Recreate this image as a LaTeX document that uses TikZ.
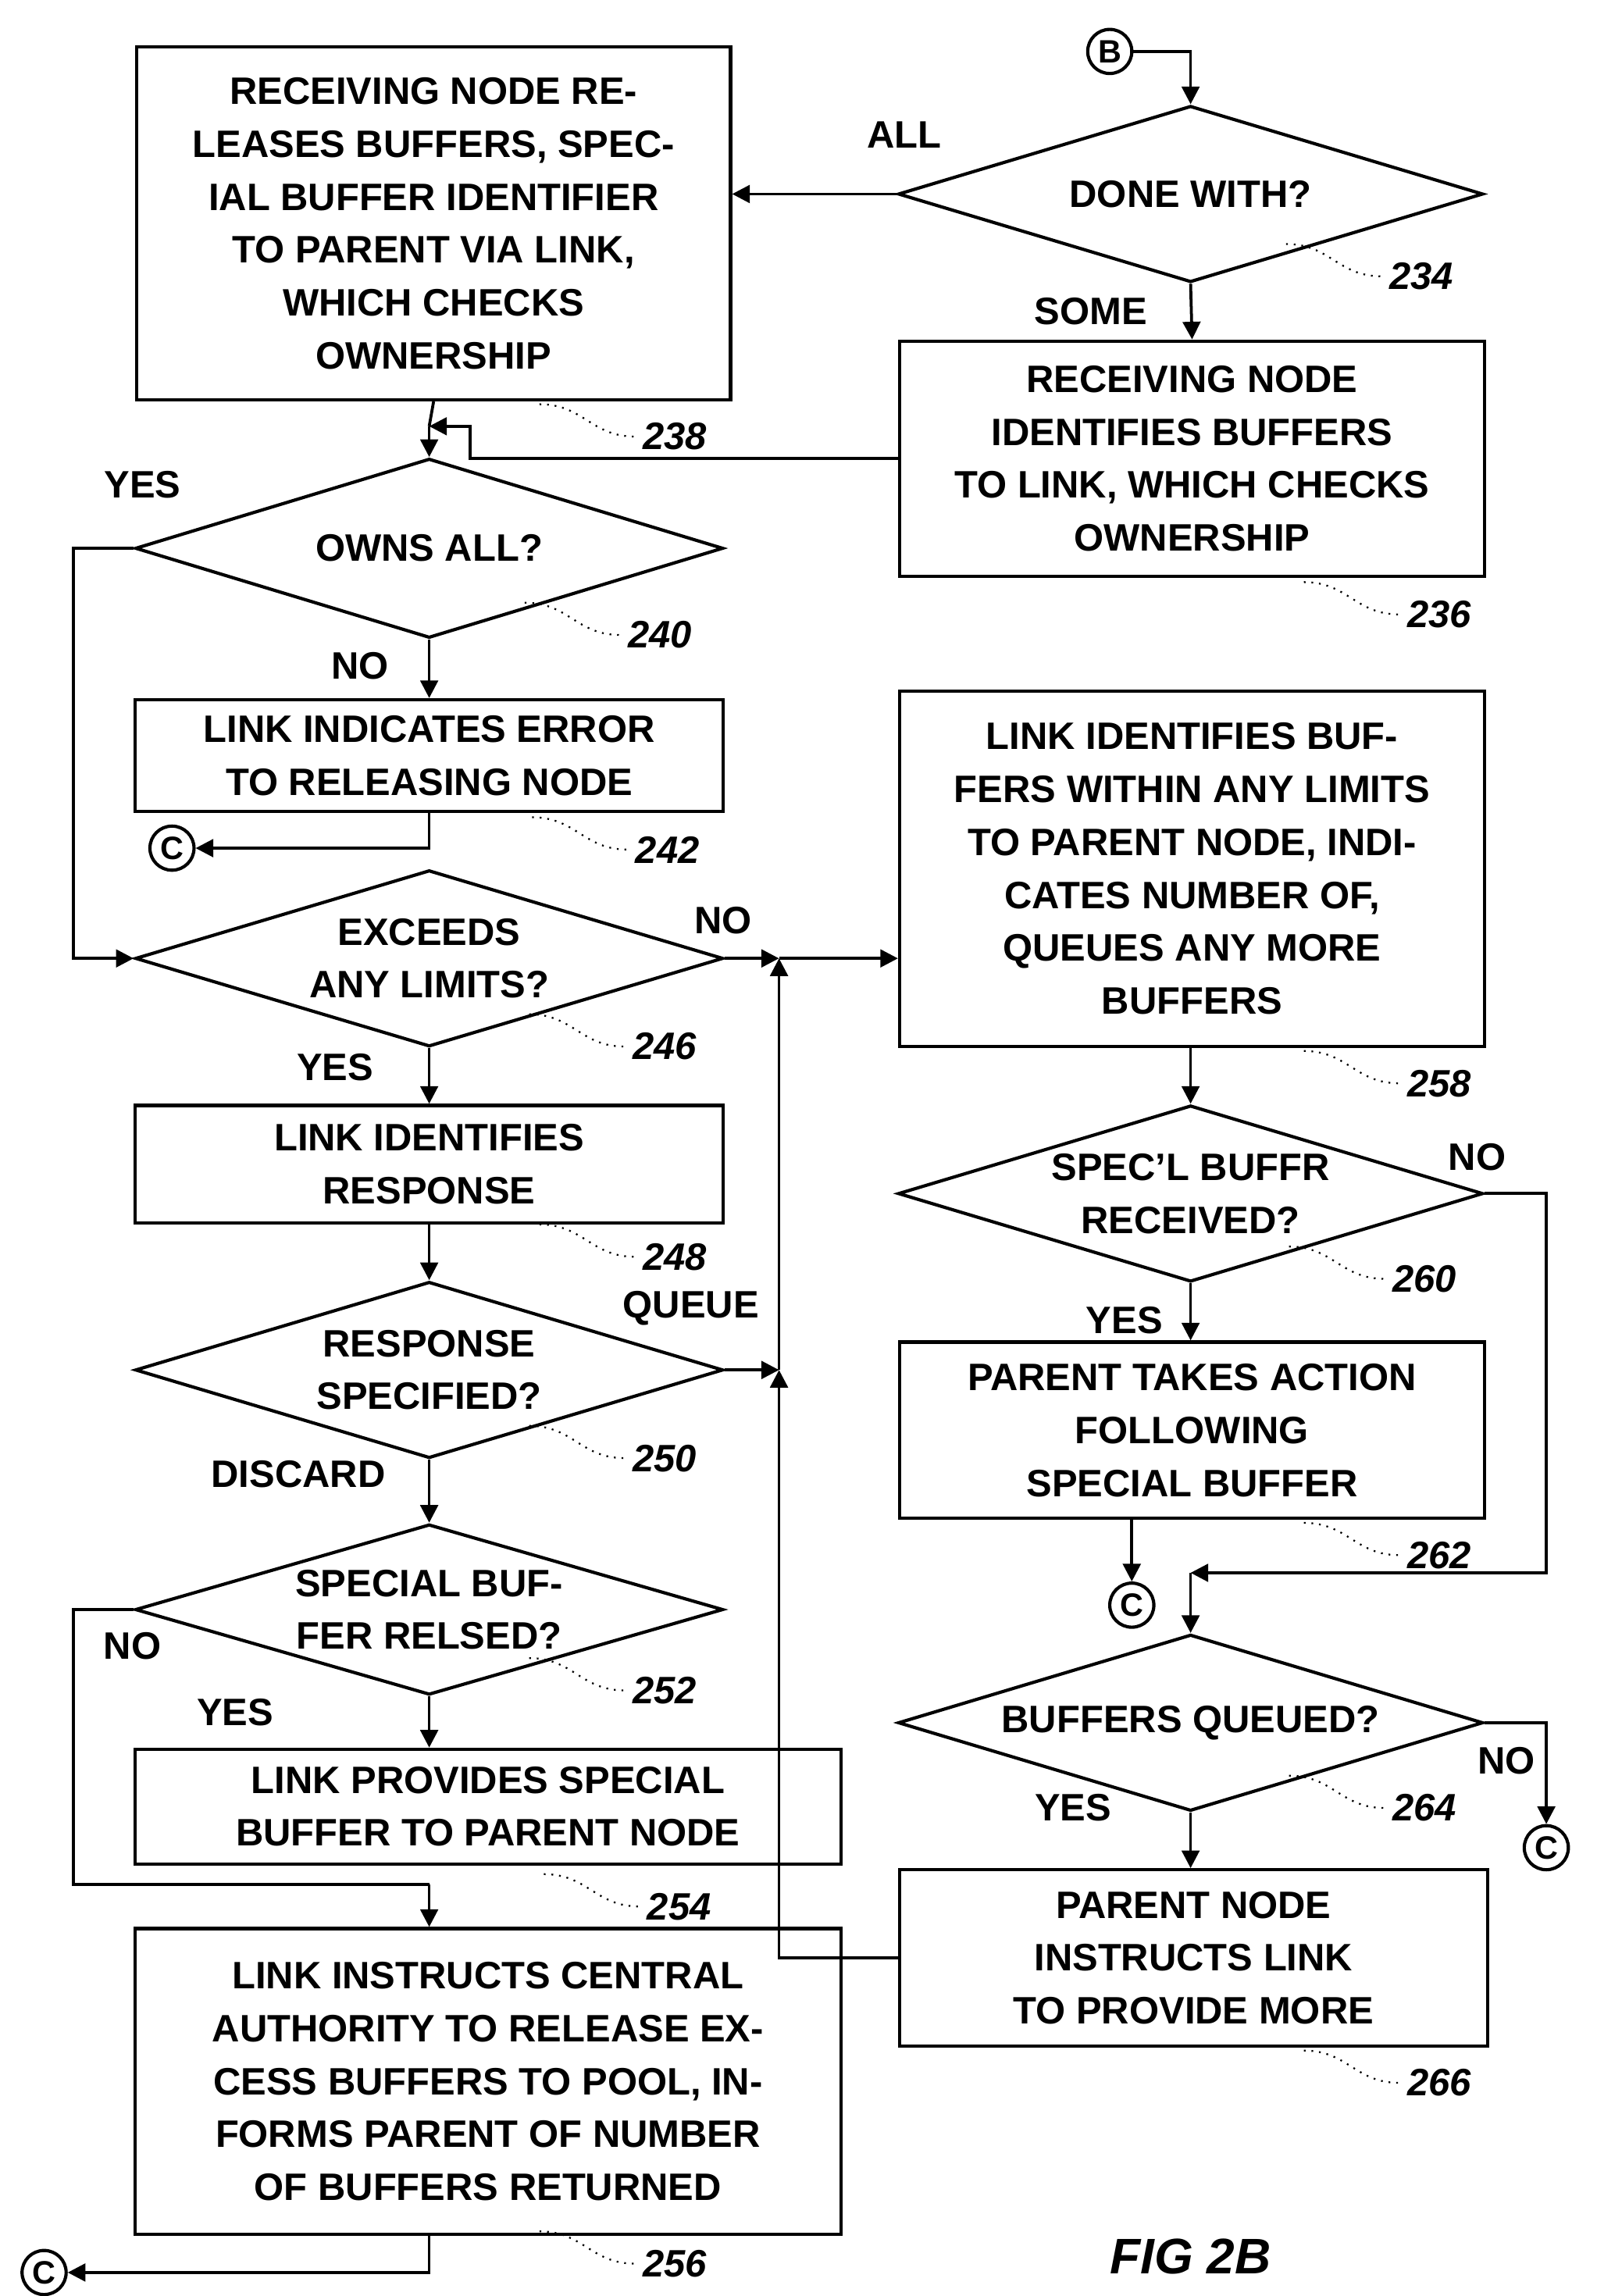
\documentclass[tikz,border=0pt]{standalone}
\usepackage{fontspec}
\setmainfont{Liberation Sans}
\usetikzlibrary{shapes.geometric,arrows.meta}

\tikzset{
  box/.style={draw,line width=1.1pt,align=center,inner sep=1pt},
  dec/.style={draw,diamond,line width=1.1pt,aspect=3.3,inner sep=0pt},
  txt/.style={align=center,inner sep=0pt},
  conn/.style={circle,draw,line width=1.1pt,minimum size=15pt,inner sep=0pt,font=\fontsize{11}{12}\selectfont\bfseries},
  flow/.style={line width=1pt,-{Triangle[length=6pt,width=6pt]}},
  line/.style={line width=1pt},
  num/.style={font=\fontsize{13}{14}\selectfont\bfseries\itshape,inner sep=0pt},
}
\newcommand{\refnum}[3]{%
  \node[num,anchor=west] at (#1,#2) {#3};
  \draw[line width=0.6pt,dotted] (#1-70,#2-22) .. controls (#1-40,#2-22) and (#1-35,#2) .. (#1-5,#2);}

\begin{document}
\begin{tikzpicture}[x=0.5pt,y=-0.5pt,font=\fontsize{13}{18}\selectfont\bfseries]
\useasboundingbox (0,0) rectangle (1086,1562);

% right column top
\node[conn] (b) at (755,35) {B};
\node[dec,minimum width=199pt,minimum height=60pt] (d234) at (810,132) {};
\node[txt] at (d234) {DONE WITH?};
\node[box,minimum width=202pt,minimum height=120pt] (r238) at (295,152)
  {RECEIVING NODE RE-\\LEASES BUFFERS, SPEC-\\IAL BUFFER IDENTIFIER\\TO PARENT VIA LINK,\\WHICH CHECKS\\OWNERSHIP};
\node[box,minimum width=199pt,minimum height=80pt] (r236) at (811,312)
  {RECEIVING NODE\\IDENTIFIES BUFFERS\\TO LINK, WHICH CHECKS\\OWNERSHIP};

% left column
\node[dec,minimum width=200pt,minimum height=61pt] (d240) at (292,373) {};
\node[txt] at (d240) {OWNS ALL?};
\node[box,minimum width=200pt,minimum height=38pt] (r242) at (292,514)
  {LINK INDICATES ERROR\\TO RELEASING NODE};
\node[conn] (c1) at (117,577) {C};
\node[dec,minimum width=200pt,minimum height=60pt] (d246) at (292,652) {};
\node[txt] at (d246) {EXCEEDS\\ANY LIMITS?};
\node[box,minimum width=200pt,minimum height=40pt] (r248) at (292,792)
  {LINK IDENTIFIES\\RESPONSE};
\node[dec,minimum width=200pt,minimum height=60pt] (d250) at (292,932) {};
\node[txt] at (d250) {RESPONSE\\SPECIFIED?};
\node[dec,minimum width=200pt,minimum height=58pt] (d252) at (292,1095) {};
\node[txt] at (d252) {SPECIAL BUF-\\FER RELSED?};
\node[box,minimum width=240pt,minimum height=39pt] (r254) at (332,1229)
  {LINK PROVIDES SPECIAL\\BUFFER TO PARENT NODE};
\node[box,minimum width=240pt,minimum height=104pt] (r256) at (332,1416)
  {LINK INSTRUCTS CENTRAL\\AUTHORITY TO RELEASE EX-\\CESS BUFFERS TO POOL, IN-\\FORMS PARENT OF NUMBER\\OF BUFFERS RETURNED};
\node[conn] (c2) at (30,1546) {C};

% right column lower
\node[box,minimum width=199pt,minimum height=121pt] (r258) at (811,591)
  {LINK IDENTIFIES BUF-\\FERS WITHIN ANY LIMITS\\TO PARENT NODE, INDI-\\CATES NUMBER OF,\\QUEUES ANY MORE\\BUFFERS};
\node[dec,minimum width=199pt,minimum height=60pt] (d260) at (810,812) {};
\node[txt] at (d260) {SPEC'L BUFFR\\RECEIVED?};
\node[box,minimum width=199pt,minimum height=60pt] (r262) at (811,973)
  {PARENT TAKES ACTION\\FOLLOWING\\SPECIAL BUFFER};
\node[conn] (c3) at (770,1092) {C};
\node[dec,minimum width=199pt,minimum height=60pt] (d264) at (810,1172) {};
\node[txt] at (d264) {BUFFERS QUEUED?};
\node[conn] (c4) at (1052,1257) {C};
\node[box,minimum width=200pt,minimum height=60pt] (r266) at (812,1332)
  {PARENT NODE\\INSTRUCTS LINK\\TO PROVIDE MORE};

% junctions
\coordinate (j1) at (292,290);
\coordinate (j2) at (530,652);
\coordinate (j3) at (530,932);
\coordinate (j4) at (810,1070);
\coordinate (j5) at (292,1282);

% connectors
\draw[flow] (b.east) -| (d234.north);
\draw[flow] (d234.west) -- (r238.east |- d234.west);
\draw[flow] (d234.south) -- (r236.north);
\draw[line] (r238.south) -- (j1);
\draw[flow] (r236.west) -- (320,312) |- (j1);
\draw[flow] (j1) -- (d240.north);
\draw[flow] (d240.west) -- (50,373) |- (d246.west);
\draw[flow] (d240.south) -- (r242.north);
\draw[flow] (r242.south) |- (c1.east);
\draw[flow] (d246.east) -- (j2);
\draw[flow] (j2) -- (r258.west |- j2);
\draw[flow] (d246.south) -- (r248.north);
\draw[flow] (r248.south) -- (d250.north);
\draw[flow] (d250.east) -- (j3);
\draw[flow] (d250.south) -- (d252.north);
\draw[flow] (d252.south) -- (r254.north -| d252.south);
\draw[line] (d252.west) -- (50,1095) |- (j5);
\draw[flow] (j5) -- (r256.north -| j5);
\draw[flow] (r256.south -| j5) |- (c2.east);
\draw[flow] (r266.west) -| (j3);
\draw[flow] (j3) -- (j2);
\draw[flow] (r258.south -| d260.north) -- (d260.north);
\draw[flow] (d260.south) -- (r262.north -| d260.south);
\draw[flow] (r262.south -| c3) -- (c3.north);
\draw[flow] (d260.east) -- (1052,812) |- (j4);
\draw[flow] (j4) -- (d264.north);
\draw[flow] (d264.east) -- (1052,1172) -- (c4.north);
\draw[flow] (d264.south) -- (r266.north -| d264.south);

% branch labels
\node[txt] at (615,92) {ALL};
\node[txt] at (742,212) {SOME};
\node[txt] at (97,330) {YES};
\node[txt] at (245,453) {NO};
\node[txt] at (492,626) {NO};
\node[txt] at (228,726) {YES};
\node[txt] at (470,890) {QUEUE};
\node[txt] at (203,1003) {DISCARD};
\node[txt] at (90,1120) {NO};
\node[txt] at (160,1165) {YES};
\node[txt] at (1005,787) {NO};
\node[txt] at (765,898) {YES};
\node[txt] at (1025,1198) {NO};
\node[txt] at (730,1230) {YES};

% reference numbers
\refnum{945}{188}{234}
\refnum{437}{297}{238}
\refnum{957}{418}{236}
\refnum{427}{432}{240}
\refnum{432}{578}{242}
\refnum{430}{712}{246}
\refnum{437}{855}{248}
\refnum{430}{992}{250}
\refnum{430}{1150}{252}
\refnum{440}{1297}{254}
\refnum{437}{1540}{256}
\refnum{957}{737}{258}
\refnum{947}{870}{260}
\refnum{957}{1058}{262}
\refnum{947}{1230}{264}
\refnum{957}{1417}{266}

\node[txt,font=\fontsize{17}{20}\selectfont\bfseries\itshape] (fig) at (810,1535) {FIG 2B};
\end{tikzpicture}
\end{document}
